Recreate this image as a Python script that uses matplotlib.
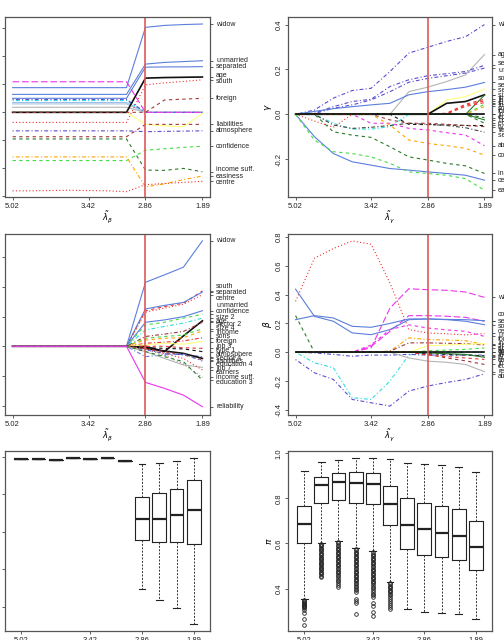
import numpy as np
import matplotlib
matplotlib.use('Agg')
import matplotlib.pyplot as plt
import matplotlib.transforms as mtransforms

plt.rcParams['font.family'] = ['Liberation Sans', 'DejaVu Sans']

# grid of penalty values (index based axis) and the chosen one
steps = np.arange(1, 12)
lam_ticks = [1, 5, 8, 11]
lam_labels = ['5.02', '3.42', '2.86', '1.89']
sel_step = 8

BLUE = '#5b7fdc'
LBLUE = '#9cc0ec'
MAG = '#ee33ee'
RED = '#ee3535'
BROWN = '#a33a3a'
PURPLE = '#5a4fcf'
GREEN = '#44dd44'
DKGREEN = '#2a7a2a'
ORANGE = '#ffa500'
CYAN = '#33dddd'
GRAY = '#b4b4b4'
YELLOW = '#ffff80'
BLACK = '#111111'
DKGRAY = '#444444'

LTY = {'solid': '-', 'dashed': (0, (3, 3)), 'dotted': (0, (1, 2)),
       'dotdash': (0, (1, 2, 3.5, 2)), 'longdash': (0, (6, 2.5))}

# ---- top left: beta path, lambda_beta grid
tl_lines = [
    (None, LBLUE, 'solid', [0.035] * 7 + [0, 0, 0, 0]),
    (None, GRAY, 'solid', [0.018] * 7 + [0, 0, 0, 0]),
    (None, '#b0c4de', 'solid', [0.030] * 7 + [0, 0, 0, 0]),
    (None, CYAN, 'dotdash', [0.042] * 7 + [0, 0, 0, 0]),
    (None, PURPLE, 'dotdash', [0.046] * 7 + [0, 0, 0, 0]),
    (None, MAG, 'longdash', [0.109] * 7 + [0, 0, 0, 0]),
    (None, YELLOW, 'solid', [0] * 7 + [-0.043, -0.048, -0.051, -0.004]),
    ('widow', BLUE, 'solid', [0.088] * 7 + [0.303, 0.310, 0.313, 0.315]),
    ('unmarried', BLUE, 'solid', [0.064] * 7 + [0.172, 0.178, 0.181, 0.184]),
    ('separated', BLUE, 'solid', [0.050] * 7 + [0.161, 0.162, 0.162, 0.163]),
    ('age', BLACK, 'solid', [0] * 7 + [0.122, 0.124, 0.125, 0.126]),
    ('south', RED, 'dotted', [-0.036] * 7 + [0.098, 0.105, 0.110, 0.116]),
    ('foreign', BROWN, 'dashed', [0] * 8 + [0.044, 0.047, 0.050]),
    ('liabilities', BROWN, 'dashed', [-0.087] * 7 + [-0.043, -0.043, -0.043, -0.043]),
    ('atmosphere', PURPLE, 'dotdash', [-0.066] * 7 + [-0.069, -0.068, -0.067, -0.066]),
    ('confidence', GREEN, 'dashed', [-0.172] * 7 + [-0.135, -0.130, -0.125, -0.121]),
    ('income suff.', DKGREEN, 'dashed', [-0.095] * 7 + [-0.206, -0.207, -0.200, -0.212]),
    ('easiness', ORANGE, 'dotdash', [-0.159] * 7 + [-0.266, -0.255, -0.240, -0.227]),
    ('centre', RED, 'dotted', [-0.280, -0.280, -0.279, -0.278, -0.279, -0.280, -0.283,
                               -0.258, -0.254, -0.250, -0.246]),
]

# ---- top right: gamma path, lambda_gamma grid
tr_lines = [
    ('widow', PURPLE, 'dotdash', [0, 0.019, 0.072, 0.106, 0.116, 0.191, 0.273, 0.299, 0.325, 0.346, 0.400]),
    ('age', GRAY, 'solid', [0, 0, 0, 0, 0, 0, 0.101, 0.121, 0.146, 0.176, 0.266]),
    ('separated', PURPLE, 'dotdash', [0, 0.005, 0.034, 0.057, 0.067, 0.124, 0.154, 0.172, 0.181, 0.191, 0.218]),
    ('unmarried', PURPLE, 'dotdash', [0, 0.003, 0.027, 0.042, 0.064, 0.101, 0.143, 0.160, 0.172, 0.184, 0.206]),
    ('south', BLUE, 'solid', [0, 0.013, 0.025, 0.034, 0.042, 0.049, 0.087, 0.101, 0.110, 0.121, 0.142]),
    ('self-empl.', YELLOW, 'solid', [0] * 8 + [0.064, 0.079, 0.112]),
    ('sector 2', BLACK, 'solid', [0] * 8 + [0.049, 0.057, 0.087]),
    ('size 2', DKGREEN, 'solid', [0] * 10 + [0.085]),
    ('job 3', RED, 'dashed', [0] * 8 + [0.005, 0.045, 0.067]),
    ('job 4', RED, 'dashed', [0] * 8 + [0.003, 0.040, 0.060]),
    ('size 4', RED, 'dashed', [0] * 8 + [0.002, 0.035, 0.052]),
    ('income', GREEN, 'dashed', [0] * 10 + [0.045]),
    ('sons', ORANGE, 'dashed', [0] * 10 + [0.035]),
    ('job 5', CYAN, 'dotdash', [0, 0, -0.040, -0.066, -0.066, -0.055, 0, 0, 0, 0, 0]),
    ('foreign', RED, 'dotted', [0, -0.030, -0.058, 0, 0, 0, 0, 0, 0, 0, 0]),
    ('education 2', DKGREEN, 'dashed', [0] * 10 + [-0.015]),
    ('hours', DKGREEN, 'solid', [0] * 10 + [-0.025]),
    ('education 4', DKGREEN, 'dashed', [0] * 10 + [-0.040]),
    ('type 1', BLACK, 'dashed', [0] * 6 + [-0.045, -0.046, -0.048, -0.050, -0.050]),
    ('liabilities', BROWN, 'dashed', [0, 0, 0, 0, 0, -0.025, -0.040, -0.040, -0.045, -0.050, -0.055]),
    ('sector 4', DKGRAY, 'dotdash', [0, 0, -0.048, -0.063, -0.058, -0.050, -0.040, -0.045, -0.050, -0.060, -0.080]),
    ('atmosphere', MAG, 'dashed', [0, 0, 0, 0, -0.040, -0.040, -0.063, -0.070, -0.082, -0.093, -0.140]),
    ('confidence', ORANGE, 'dashed', [0, 0, 0, 0, 0, -0.048, -0.115, -0.130, -0.140, -0.152, -0.182]),
    ('income suff.', DKGREEN, 'dashed', [0, 0, -0.078, -0.093, -0.103, -0.145, -0.190, -0.204, -0.219, -0.230, -0.264]),
    ('centre', BLUE, 'solid', [0, -0.100, -0.175, -0.212, -0.227, -0.242, -0.249, -0.257, -0.264, -0.272, -0.294]),
    ('easiness', GREEN, 'dashed', [0, -0.115, -0.167, -0.175, -0.190, -0.219, -0.257, -0.264, -0.272, -0.287, -0.339]),
    (None, BLACK, 'solid', [0] * 11),
]

# ---- middle left: beta path after refit, lambda_beta grid
ml_lines = [
    ('widow', BLUE, 'solid', [0] * 7 + [0.216, 0.241, 0.267, 0.356]),
    ('south', RED, 'dashed', [0] * 7 + [0.120, 0.134, 0.145, 0.187]),
    ('separated', BLUE, 'solid', [0] * 7 + [0.126, 0.138, 0.148, 0.183]),
    ('centre', RED, 'dotted', [0] * 7 + [0.115, 0.129, 0.142, 0.174]),
    ('unmarried', BLUE, 'solid', [0] * 7 + [0.081, 0.089, 0.100, 0.120]),
    ('confidence', GREEN, 'dashed', [0] * 7 + [0.072, 0.081, 0.095, 0.108]),
    ('age', BLACK, 'solid', [0] * 7 + [0, -0.018, 0.035, 0.086]),
    ('size 2', CYAN, 'dotdash', [0] * 7 + [0.055, 0.067, 0.078, 0.095]),
    ('sector 2', BROWN, 'dotdash', [0] * 7 + [0.033, 0.041, 0.050, 0.081]),
    ('size 4', GREEN, 'dashed', [0] * 7 + [0.027, 0.033, 0.038, 0.059]),
    ('income', ORANGE, 'dashed', [0] * 7 + [0.021, 0.027, 0.029, 0.052]),
    ('sons', RED, 'dotdash', [0] * 7 + [0.010, 0.014, 0.018, 0.029]),
    ('foreign', YELLOW, 'solid', [0] * 7 + [0.005, 0.010, 0.007, 0.016]),
    ('job 3', RED, 'dashed', [0] * 7 + [0, 0, -0.005, -0.007]),
    ('type 1', BLACK, 'dashed', [0] * 7 + [-0.005, -0.007, -0.009, -0.018]),
    ('atmosphere', PURPLE, 'dotdash', [0] * 7 + [-0.012, -0.024, -0.029, -0.035]),
    ('sector 4', BLACK, 'solid', [0] * 7 + [-0.007, -0.016, -0.024, -0.041]),
    ('liabilities', BROWN, 'dashed', [0] * 7 + [-0.009, -0.018, -0.029, -0.046]),
    ('education 4', BLUE, 'dotdash', [0] * 7 + [-0.035, -0.029, -0.026, -0.050]),
    ('job 7', GRAY, 'solid', [0] * 7 + [-0.018, -0.041, -0.063, -0.071]),
    ('earners', RED, 'dotted', [0] * 7 + [-0.007, -0.024, -0.041, -0.080]),
    ('education 3', DKGREEN, 'dashed', [0] * 7 + [-0.018, -0.035, -0.052, -0.114]),
    ('income suff.', '#888888', 'dotted', [0] * 7 + [-0.010, -0.030, -0.060, -0.105]),
    ('reliability', MAG, 'solid', [0] * 7 + [-0.122, -0.142, -0.165, -0.204]),
]

# ---- middle right: beta path, lambda_gamma grid
mr_lines = [
    ('widow', MAG, 'longdash', [0, 0, 0, 0, 0.030, 0.307, 0.441, 0.434, 0.430, 0.418, 0.381]),
    ('centre', RED, 'dotted', [0.353, 0.653, 0.720, 0.773, 0.750, 0.480, 0.157, 0.134, 0.128, 0.120, 0.130]),
    ('separated', MAG, 'longdash', [0, 0, 0, 0, 0.040, 0.145, 0.254, 0.254, 0.250, 0.242, 0.215]),
    ('south', BLUE, 'solid', [0.438, 0.249, 0.215, 0.134, 0.122, 0.157, 0.226, 0.231, 0.226, 0.215, 0.191]),
    ('confidence', BLUE, 'solid', [0.226, 0.254, 0.238, 0.180, 0.173, 0.200, 0.231, 0.231, 0.228, 0.226, 0.219]),
    ('unmarried', MAG, 'dashed', [0, 0, 0, 0, 0.050, 0.157, 0.190, 0.168, 0.155, 0.145, 0.110]),
    ('liabilities', DKGREEN, 'dashed', [0.254, 0, 0, 0, 0, 0, 0, 0, 0, 0, 0]),
    ('income', ORANGE, 'dotdash', [0, 0, 0, 0, 0, 0.007, 0.100, 0.088, 0.085, 0.080, 0.053]),
    ('sector 2', BROWN, 'dotdash', [0, 0, 0, 0, 0, 0.007, 0.065, 0.065, 0.062, 0.060, 0.050]),
    ('foreign', YELLOW, 'solid', [0] * 7 + [0.045, 0.050, 0.055, 0.060]),
    ('size 4', GREEN, 'dashed', [0] * 7 + [0.010, 0.015, 0.020, 0.030]),
    ('size 2', CYAN, 'dotdash', [0, -0.074, -0.108, -0.316, -0.328, -0.200, -0.020, 0, 0, 0, 0]),
    ('job 7', PURPLE, 'dotdash', [0, -0.005, -0.015, -0.028, -0.020, -0.020, -0.015, -0.020, -0.020, -0.020, -0.020]),
    ('reliability', GRAY, 'solid', [0] * 6 + [-0.040, -0.062, -0.070, -0.085, -0.135]),
    ('education 3', BROWN, 'dashed', [0] * 7 + [-0.015, -0.040, -0.060, -0.085]),
    ('type 1', BLACK, 'dashed', [0] * 7 + [-0.010, -0.015, -0.020, -0.025]),
    ('job 3', RED, 'dashed', [0] * 7 + [-0.020, -0.030, -0.040, -0.050]),
    ('earners', DKGREEN, 'solid', [0] * 7 + [-0.005, -0.010, -0.015, -0.035]),
    ('atmosphere', PURPLE, 'dotdash', [-0.051, -0.143, -0.189, -0.328, -0.351, -0.374, -0.270, -0.235, -0.210, -0.189, -0.150]),
    ('age', BLACK, 'solid', [0] * 11),
]

# ---- bottom left: boxplots per lambda_beta step (whishi, q3, med, q1, whislo)
bl_stats = [
    (0.9875, 0.9875, 0.9875, 0.9875, 0.9875),
    (0.9875, 0.9875, 0.9875, 0.9875, 0.9875),
    (0.984, 0.984, 0.984, 0.984, 0.984),
    (0.996, 0.996, 0.996, 0.996, 0.996),
    (0.989, 0.989, 0.989, 0.989, 0.989),
    (0.996, 0.996, 0.996, 0.996, 0.996),
    (0.979, 0.979, 0.979, 0.979, 0.979),
    (0.961, 0.784, 0.666, 0.555, 0.295),
    (0.970, 0.805, 0.670, 0.545, 0.234),
    (0.980, 0.829, 0.6875, 0.548, 0.193),
    (0.996, 0.877, 0.718, 0.534, 0.105),
]

# ---- bottom right: boxplots of pi per lambda_gamma step
br_stats = [
    (0.923, 0.766, 0.686, 0.600, 0.356),
    (0.961, 0.896, 0.859, 0.778, 0.603),
    (0.970, 0.911, 0.874, 0.791, 0.612),
    (0.981, 0.916, 0.870, 0.781, 0.581),
    (0.981, 0.911, 0.864, 0.773, 0.566),
    (0.973, 0.855, 0.773, 0.684, 0.430),
    (0.956, 0.800, 0.684, 0.575, 0.311),
    (0.951, 0.781, 0.662, 0.551, 0.296),
    (0.947, 0.766, 0.647, 0.541, 0.293),
    (0.941, 0.751, 0.633, 0.526, 0.286),
    (0.919, 0.699, 0.585, 0.484, 0.267),
]
br_fliers = [
    [0.350, 0.345, 0.341, 0.337, 0.333, 0.329, 0.325, 0.321, 0.317, 0.313, 0.307, 0.293, 0.264, 0.240],
    [0.598, 0.592, 0.587, 0.581, 0.576, 0.570, 0.565, 0.559, 0.553, 0.548, 0.542, 0.537, 0.531, 0.525,
     0.520, 0.514, 0.509, 0.503, 0.497, 0.492, 0.486, 0.481, 0.475, 0.469, 0.463, 0.458, 0.452],
    [0.606, 0.600, 0.594, 0.588, 0.582, 0.576, 0.570, 0.564, 0.558, 0.552, 0.546, 0.540, 0.534, 0.528,
     0.522, 0.516, 0.510, 0.504, 0.498, 0.492, 0.486, 0.480, 0.474, 0.468, 0.462, 0.455, 0.448, 0.440,
     0.432, 0.424, 0.415, 0.407],
    [0.576, 0.570, 0.564, 0.558, 0.552, 0.546, 0.540, 0.534, 0.528, 0.522, 0.516, 0.510, 0.504, 0.498,
     0.492, 0.486, 0.480, 0.474, 0.468, 0.462, 0.456, 0.450, 0.444, 0.438, 0.432, 0.426, 0.420, 0.413,
     0.406, 0.399, 0.392, 0.385, 0.353, 0.343, 0.335, 0.289],
    [0.561, 0.555, 0.549, 0.543, 0.537, 0.531, 0.525, 0.519, 0.513, 0.507, 0.501, 0.495, 0.489, 0.483,
     0.477, 0.471, 0.465, 0.459, 0.453, 0.447, 0.441, 0.435, 0.429, 0.423, 0.416, 0.409, 0.402, 0.394,
     0.386, 0.378, 0.371, 0.364, 0.335, 0.323, 0.296, 0.279],
    [0.425, 0.419, 0.413, 0.407, 0.401, 0.395, 0.389, 0.383, 0.377, 0.370, 0.362, 0.354, 0.345, 0.336,
     0.327, 0.318, 0.311],
    [], [], [], [], [],
]

FRAME = '#555555'
TICK_FS = 5.5
LAB_FS = 5


def spread(vals, gap, iters):
    order = np.argsort(vals)
    pos = np.array(vals, float)[order]
    for _ in range(iters):
        for i in range(len(pos) - 1):
            d = pos[i + 1] - pos[i]
            if d < gap:
                pos[i] -= (gap - d) / 2
                pos[i + 1] += (gap - d) / 2
    out = np.empty_like(pos)
    out[order] = pos
    return out


def style_axes(ax, xlim, ylim, yticks, show_ylabels, ylabel=None, xlabel=None):
    ax.set_xlim(xlim)
    ax.set_ylim(ylim)
    ax.set_xticks(lam_ticks)
    ax.set_xticklabels(lam_labels)
    ax.set_yticks(yticks)
    for s in ax.spines.values():
        s.set_color(FRAME)
        s.set_linewidth(0.9)
    ax.tick_params(axis='both', direction='out', length=2.5, width=0.6, color=DKGRAY,
                   labelsize=TICK_FS, pad=1.5, labelcolor='#222222')
    if show_ylabels:
        ax.set_yticklabels(['%.1f' % t for t in yticks])
        for lab in ax.get_yticklabels():
            lab.set_rotation(90)
            lab.set_va('center')
        if ylabel:
            ax.set_ylabel(ylabel, fontsize=6.5, labelpad=1)
    else:
        ax.tick_params(axis='y', labelleft=False)
    if xlabel:
        ax.set_xlabel(xlabel, fontsize=6, labelpad=0)


def path_panel(ax, lines, ylim, yticks, show_ylabels, ylabel, xlabel, iters):
    for name, col, lty, vals in lines:
        lw = 1.2 if col == BLACK and lty == 'solid' else 0.8
        ax.plot(steps, vals, color=col, ls=LTY[lty], lw=lw)
    ax.axvline(sel_step, color='#e05a5a', lw=1.2)
    style_axes(ax, (0.6, 11.4), ylim, yticks, show_ylabels, ylabel, xlabel)

    named = [(n, v[-1]) for n, c, l, v in lines if n]
    finals = [f for n, f in named]
    ax2 = ax.twinx()
    ax2.set_ylim(ylim)
    ax2.set_yticks(finals)
    ax2.set_yticklabels([])
    ax2.tick_params(axis='y', direction='out', length=2.5, width=0.6, color=DKGRAY)
    for s in ax2.spines.values():
        s.set_visible(False)
    height_px = ax.get_position().height * 640
    gap = 6.5 / height_px * (ylim[1] - ylim[0])
    pos = spread(finals, gap, iters)
    trans = mtransforms.blended_transform_factory(ax.transAxes, ax.transData)
    for (name, f), y in zip(named, pos):
        ax.text(1.03, y, name, transform=trans, fontsize=LAB_FS, va='center', ha='left',
                color='#222222', clip_on=False)


def box_panel(ax, stats, fliers, ylim, yticks, show_ylabels, ylabel):
    bxs = []
    for (hi, q3, med, q1, lo), fl in zip(stats, fliers):
        bxs.append(dict(whishi=hi, q3=q3, med=med, q1=q1, whislo=lo, fliers=fl))
    ax.bxp(bxs, positions=steps, widths=0.8, capwidths=0.4, showfliers=True, manage_ticks=False,
           boxprops=dict(color='#222222', lw=0.8),
           medianprops=dict(color='#222222', lw=1.6),
           whiskerprops=dict(color='#333333', lw=0.7, ls=(0, (2, 1.5))),
           capprops=dict(color='#222222', lw=0.8),
           flierprops=dict(marker='o', markersize=2.6, mfc='none', mec='#222222', mew=0.6))
    style_axes(ax, (0.06, 11.94), ylim, yticks, show_ylabels, ylabel)


fig = plt.figure(figsize=(5.04, 6.4), dpi=100)
W, H = 504.0, 640.0
col_x = [(5, 205), (288, 204)]
row_y = [(17, 180), (234, 181), (451, 180)]


def make_ax(r, c):
    x0, w = col_x[c]
    y0, h = row_y[r]
    return fig.add_axes([x0 / W, 1 - (y0 + h) / H, w / W, h / H])


ax = make_ax(0, 0)
path_panel(ax, tl_lines, (-0.302, 0.340), np.arange(-0.3, 0.31, 0.1), False, None,
           r'$\tilde{\lambda}_{\beta}$', 40)
ax = make_ax(0, 1)
path_panel(ax, tr_lines, (-0.369, 0.434), [-0.2, 0.0, 0.2, 0.4], True, r'$\gamma$',
           r'$\tilde{\lambda}_{\gamma}$', 3)
ax = make_ax(1, 0)
path_panel(ax, ml_lines, (-0.232, 0.379), np.arange(-0.2, 0.31, 0.1), False, None,
           r'$\tilde{\lambda}_{\beta}$', 3)
ax = make_ax(1, 1)
path_panel(ax, mr_lines, (-0.436, 0.821), [-0.4, -0.2, 0.0, 0.2, 0.4, 0.6, 0.8], True, r'$\beta$',
           r'$\tilde{\lambda}_{\gamma}$', 3)
ax = make_ax(2, 0)
box_panel(ax, bl_stats, [[]] * 11, (0.07, 1.032), [0.2, 0.4, 0.6, 0.8, 1.0], False, None)
ax = make_ax(2, 1)
box_panel(ax, br_stats, br_fliers, (0.212, 1.01), [0.4, 0.6, 0.8, 1.0], True, r'$\pi$')

fig.savefig('out.png', dpi=100)
